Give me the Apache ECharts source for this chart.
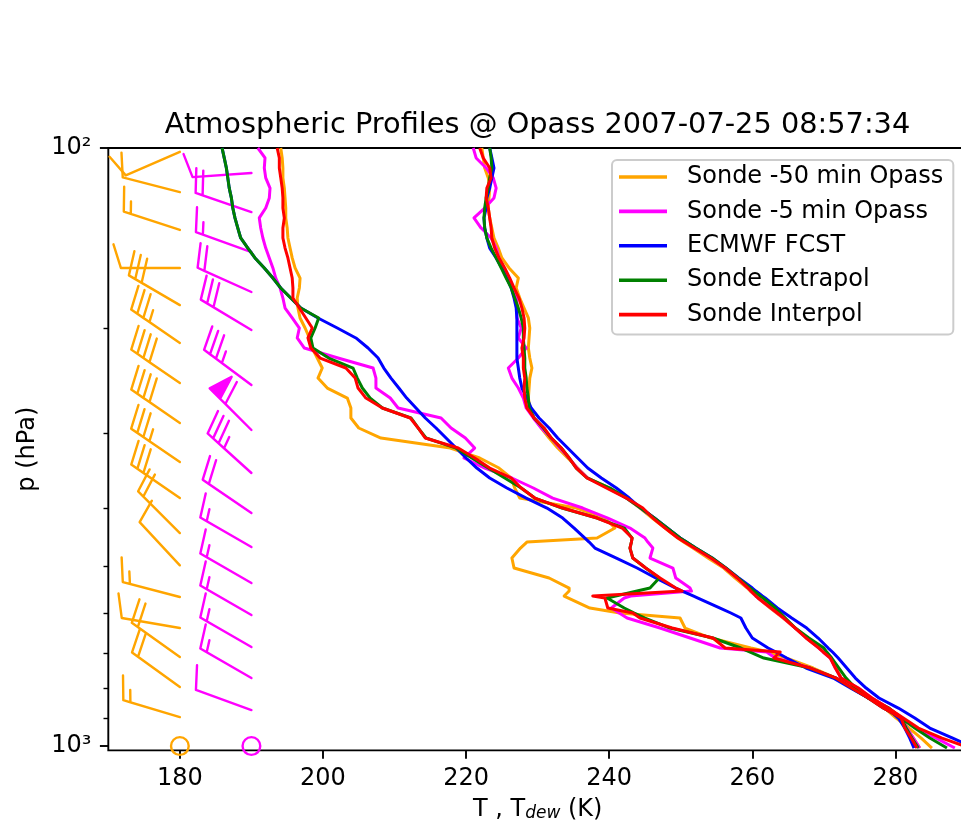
<!DOCTYPE html>
<html><head><meta charset="utf-8">
<script src="https://cdn.jsdelivr.net/npm/echarts@6/dist/echarts.min.js"></script>
<style>html,body{margin:0;padding:0;background:#fff;overflow:hidden;}#c{width:961px;height:826px;}</style>
</head><body><div id="c"></div>
<script>
// ---------- data ----------
const xTicks = [180, 200, 220, 240, 260, 280];
const yMajor = [100, 1000];
const yMinor = [200, 300, 400, 500, 600, 700, 800, 900];
const seriesNames = ['Sonde -50 min Opass', 'Sonde -5 min Opass', 'ECMWF FCST', 'Sonde Extrapol', 'Sonde Interpol'];

// pressure levels (hPa) shared by all profiles
const pLevels = [100.0,103.9,108.0,112.2,116.7,121.2,126.0,130.9,136.1,141.4,
  147.0,152.7,158.7,165.0,171.4,178.2,185.2,192.4,200.0,207.8,
  216.0,224.5,233.3,242.5,252.0,261.9,272.1,282.8,293.9,305.5,
  317.5,329.9,342.9,356.3,370.3,384.9,400.0,415.7,432.0,449.0,
  456.0,
  466.6,484.9,503.9,523.7,544.3,
  550.6,561.3,
  565.6,587.8,
  599.2,
  610.9,634.9,659.8,685.7,
  696.3,
  712.6,740.6,769.7,799.9,831.3,864.0,897.9,933.1,969.8,1007.8];

// temperature (K)
const orangeT = [222.2,222.4,222.6,223.1,223.3,223.2,223.1,223.3,223.6,223.9,
  224.5,225.0,226.0,227.3,227.0,227.5,228.1,228.7,228.9,228.8,
  228.7,228.9,229.2,228.9,228.8,228.7,228.9,229.5,230.5,231.6,
  232.8,234.2,235.6,237.0,240.1,242.4,244.3,246.0,247.8,249.6,
  250.4, 251.7,253.8,256.0,257.6,259.3, 259.7,260.5, 260.8,262.5, 263.4, 264.3,266.0,267.6,269.5, 270.1,
  270.9,271.7,272.4,274.6,276.6,278.5,280.1,281.9,283.6,285.1];
const magentaT = [221.0,221.4,222.8,223.8,224.2,223.9,222.6,221.1,222.1,223.5,
  224.2,224.6,225.3,226.0,226.6,227.1,227.1,227.1,227.7,227.3,
  228.4,227.3,225.9,226.4,227.3,228.0,228.4,229.4,230.5,231.9,
  233.1,234.4,235.5,237.0,239.8,242.4,244.4,246.3,248.1,249.9,
  250.7, 251.9,254.2,256.2,257.9,259.4, 259.8,260.5, 260.8,262.6, 263.5, 264.4,266.0,267.6,269.3, 269.9,
  270.9,271.6,272.4,274.8,276.7,279.0,280.9,282.9,285.7,288.3];
const blueT = [223.3,223.6,223.9,223.6,223.3,222.9,222.8,222.5,222.6,222.9,
  223.3,224.2,225.0,225.7,226.3,226.7,227.0,227.1,227.1,227.1,
  227.1,227.1,227.3,227.5,227.8,228.5,229.1,230.2,231.6,232.8,
  234.2,235.6,237.0,238.9,241.0,242.8,244.4,246.3,248.1,249.9,
  250.8, 252.1,254.4,256.3,258.1,260.0, 260.5,261.4, 261.8,263.5, 264.5, 265.5,267.6,269.2,270.6, 271.2,
  272.0,273.2,274.4,275.9,277.7,280.4,282.7,284.8,288.0,291.1];
const greenT = [223.3,223.5,223.6,223.3,223.1,222.8,222.6,222.5,222.6,222.9,
  223.5,224.2,224.9,225.6,226.3,226.8,227.3,227.7,228.0,228.0,
  228.1,228.2,228.2,228.4,228.5,228.7,228.8,229.5,230.8,231.9,
  233.3,234.4,235.4,236.9,240.1,242.4,244.4,246.3,248.1,249.9,
  250.8, 252.1,254.4,256.3,258.0,259.7, 260.2,261.1, 261.5,263.2, 263.9, 264.6,266.0,267.9,270.0, 270.4,
  271.1,272.1,273.1,274.4,276.2,279.1,280.8,282.7,284.8,287.2];
const redT = [221.9,222.4,223.3,223.5,222.9,222.8,223.1,223.3,223.5,223.6,
  224.0,224.6,225.4,226.1,226.7,227.4,227.8,228.1,228.2,228.1,
  227.8,228.0,228.0,228.2,228.1,228.2,228.5,229.5,230.9,231.9,
  233.3,234.4,235.4,236.9,239.6,242.4,244.7,246.1,247.8,249.6,
  250.5, 251.9,254.2,256.2,257.9,259.4, 259.8,260.5, 260.8,262.6, 263.5, 264.4,266.0,267.5,269.3, 269.9,
  270.9,271.6,272.4,274.8,276.7,279.0,281.1,283.2,286.5,290.4];

// dew point (K)
const orangeTd = [194.1,194.3,194.4,194.4,194.6,194.7,194.8,194.8,195.0,195.1,
  195.4,195.7,196.1,196.8,196.7,196.4,196.5,196.8,197.5,198.1,
  198.5,199.2,199.9,199.3,200.6,203.4,203.9,203.9,205.0,208.1,
  217.8,221.9,224.6,226.3,226.8,227.5,235.4,239.4,240.8,238.3,
  228.5, 227.6,226.4,226.7,231.6,234.4, 234.4,233.7, 233.8,237.3, 241.5, 249.9,250.6,254.2,259.8, 262.3,
  264.7,268.5,271.7,274.2,276.7,279.0,280.9,281.6,282.5,283.4];
const magentaTd = [190.9,191.9,191.8,192.0,192.6,192.5,192.0,191.1,191.3,191.6,
  192.0,192.5,193.0,193.4,194.0,194.4,194.7,195.7,196.7,196.4,
  197.4,202.1,207.0,207.4,207.4,209.4,210.5,216.5,217.9,219.9,
  221.2,219.7,222.6,226.4,229.4,232.1,236.3,239.8,242.9,245.0,
  245.4, 246.1,245.7,248.9,249.3,251.3, 251.5,243.0, 242.1,240.3, 241.4, 242.5,247.1,251.3,255.5, 262.0,
  263.2,268.1,271.7,273.9,276.2,278.3,280.8,281.6,282.5,283.4];
const blueTd = [185.9,186.2,186.5,186.7,186.9,187.2,187.4,187.7,188.1,188.5,
  189.5,190.5,191.8,193.0,194.1,195.5,196.9,199.3,202.0,204.6,
  206.3,207.7,208.5,209.5,210.6,211.7,213.0,214.3,215.8,217.2,
  218.6,220.0,221.5,223.3,225.7,228.4,231.3,233.5,235.1,236.6,
  237.2, 238.0,241.0,243.9,246.5,249.3, 250.2,251.8, 252.4,255.5, 257.0, 258.4,259.1,260.0,262.2, 263.3,
  264.8,267.5,271.3,273.7,276.2,278.8,280.4,281.3,282.0,282.6];
const greenTd = [185.9,186.2,186.5,186.7,186.9,187.2,187.4,187.7,188.1,188.5,
  189.5,190.5,191.8,193.0,194.1,195.5,196.9,199.4,198.9,198.3,
  198.6,200.8,204.2,204.8,205.5,206.6,208.3,212.3,213.3,214.4,
  218.6,220.8,223.1,225.4,227.7,229.6,233.4,238.3,242.1,243.2,
  243.1, 242.9,243.3,245.1,247.0,245.7, 243.9,240.9, 239.7,242.1, 243.5, 245.0,248.5,254.5,258.4, 259.7,
  261.6,268.1,271.7,273.9,276.2,278.3,280.8,281.5,282.3,283.2];
const redTd = [193.6,193.9,193.9,194.1,194.3,194.4,194.4,194.6,194.4,194.4,
  194.7,195.1,195.4,195.7,195.8,195.8,196.7,197.6,198.5,197.9,
  198.3,199.6,203.2,204.5,204.9,206.0,208.3,212.2,213.3,214.3,
  218.9,221.2,223.3,226.3,227.7,229.6,233.5,238.3,241.8,243.2,
  243.1, 242.9,243.3,245.1,247.1,249.3, 250.2,237.7, 239.4,239.8, 243.3, 244.3,248.8,254.5,256.2, 263.9,
  263.0,268.1,271.7,273.9,276.2,278.3,280.8,281.3,282.2,283.0];

// wind barbs (kt) : pressure, u, v
const orangeBarbX = 180;
const orangeBarbP = [101.5,118.5,137.1,158.7,183.1,211.8,247.2,288.3,335.0,384.9,440.4,498.7,563.4,634.9,709.9,796.8,894.5,1000];
const orangeBarbU = [9.2,9.7,14.3,10.0,25.9,28.9,33.0,33.0,28.9,24.7,14.1,6.8,14.5,9.8,16.3,16.2,14.4,0];
const orangeBarbV = [4.0,-2.5,-4.7,0.0,-15.1,-19.8,-22.7,-22.7,-19.8,-17.0,-14.1,-7.3,-3.8,-1.7,-11.6,-11.7,-4.3,0];
const magentaBarbX = 190;
const magentaBarbP = [110.1,128.0,149.3,174.1,201.5,249.1,296.2,349.5,407.8,464.8,533.9,603.9,683.1,769.7,870.7,1000];
const magentaBarbU = [10.0,18.9,14.1,18.2,25.7,28.1,42.4,26.0,16.5,13.0,13.0,13.0,13.0,13.0,9.4,0];
const magentaBarbV = [0.7,-6.5,-5.1,-8.2,-15.4,-20.9,-42.4,-23.5,-11.3,-7.5,-7.5,-7.5,-7.5,-7.5,-3.4,0];

// ---------- chart ----------
const FONT = 'DejaVu Sans';
const colors = {orange:'#FFA500', magenta:'#FF00FF', blue:'#0000FF', green:'#008000', red:'#FF0000'};
const chart = echarts.init(document.getElementById('c'), null, {renderer:'canvas'});

function prof(name, color, arr) {
  return {
    type:'line', name, data: arr.map((t, i) => [t, pLevels[i]]),
    symbol:'none', showSymbol:false, smooth:false, animation:false,
    lineStyle:{color, width:3, join:'round'}, itemStyle:{color},
    emphasis:{disabled:true}, silent:true, z:3
  };
}

const BARB_LEN = 59;
function barbRenderer(color) {
  return function (params, api) {
    const pt = api.coord([api.value(0), api.value(1)]);
    const u = api.value(2), v = api.value(3);
    const L = BARB_LEN, sp = L * 0.125, H = L * 0.4, fw = L * 0.25, lw = 2.4;
    const s = Math.hypot(u, v);
    let mag = Math.round(s / 5) * 5;
    const nflags = Math.floor(mag / 50); mag -= nflags * 50;
    const nbarb = Math.floor(mag / 10); mag -= nbarb * 10;
    const half = mag >= 5;
    if (!nflags && !nbarb && !half) {
      return {type:'circle', shape:{cx:pt[0], cy:pt[1], r:0.15 * L}, style:{fill:null, stroke:color, lineWidth:lw}};
    }
    const d = [-u / s, v / s], n = [-v / s, -u / s];
    const loc = [[0, 0]];
    let off = L;
    for (let i = 0; i < nflags; i++) {
      if (off !== L) off += sp / 2;
      loc.push([0, off], [H, off - fw / 2], [0, off - fw]);
      off -= fw + sp;
    }
    for (let i = 0; i < nbarb; i++) {
      loc.push([0, off], [H, off + fw / 2], [0, off]);
      off -= sp;
    }
    if (half) {
      if (off === L) { loc.push([0, off]); off -= 1.5 * sp; }
      loc.push([0, off], [H / 2, off + fw / 4], [0, off]);
    }
    const pts = loc.map(([a, b]) => [pt[0] + b * d[0] + a * n[0], pt[1] + b * d[1] + a * n[1]]);
    return {type:'polygon', shape:{points:pts}, style:{fill:color, stroke:color, lineWidth:lw, lineJoin:'round'}};
  };
}
function barbSeries(color, x, P, U, V) {
  return {
    type:'custom', renderItem: barbRenderer(color), silent:true, animation:false, z:2,
    data: P.map((p, i) => [x, p, U[i], V[i]]), encode:{x:0, y:1}
  };
}

const tickStyle = {color:'#000', fontFamily:FONT, fontSize:24};
const option = {
  animation:false,
  backgroundColor:'#fff',
  title:{
    text:'Atmospheric Profiles @ Opass 2007-07-25 08:57:34',
    left:537.5, textAlign:'center', top:111, padding:0,
    textStyle:{fontFamily:FONT, fontSize:28.8, fontWeight:'normal', color:'#000'}
  },
  legend:{
    data: seriesNames, orient:'vertical', left:612, top:160,
    icon:'rect', itemWidth:48, itemHeight:3.6, itemGap:10.4,
    padding:[5, 10, 8, 7],
    backgroundColor:'rgba(255,255,255,0.8)', borderColor:'#cccccc', borderWidth:2, borderRadius:5,
    textStyle:{fontFamily:FONT, fontSize:24, color:'#000', lineHeight:24, padding:[0,0,0,15]},
    selectedMode:false
  },
  grid:{left:108.3, top:148, right:-6, bottom:75.6, show:true, borderColor:'#000', borderWidth:1.9,
        backgroundColor:'transparent', containLabel:false, outerBoundsMode:'none'},
  xAxis:{
    type:'value', min:170, max:290,
    axisLine:{show:false},
    axisTick:{show:true, inside:false, length:8.4, customValues:xTicks, lineStyle:{color:'#000', width:1.9}},
    axisLabel:{show:true, customValues:xTicks, margin:16, ...tickStyle},
    splitLine:{show:false},
    name:'T , T{sub|dew} (K)', nameLocation:'middle', nameGap:46,
    nameTextStyle:{fontFamily:FONT, fontSize:24, color:'#000', lineHeight:26, verticalAlign:'top',
      rich:{sub:{fontFamily:FONT, fontSize:17, fontStyle:'italic', color:'#000', verticalAlign:'bottom', lineHeight:17}}}
  },
  yAxis:[{
    type:'log', logBase:10, min:100, max:1017, inverse:true,
    axisLine:{show:false},
    axisTick:{show:true, length:8.4, customValues:yMajor, lineStyle:{color:'#000', width:1.9}},
    axisLabel:{show:true, customValues:yMajor, margin:17, formatter:(v) => (v < 500 ? '10²' : '10³'), ...tickStyle},
    splitLine:{show:false}, minorTick:{show:false},
    name:'p (hPa)', nameLocation:'middle', nameRotate:90, nameGap:68,
    nameTextStyle:{fontFamily:FONT, fontSize:24, color:'#000'}
  },{
    type:'log', logBase:10, min:100, max:1017, inverse:true, position:'left',
    axisLine:{show:false},
    axisTick:{show:true, length:4.8, customValues:yMinor, lineStyle:{color:'#000', width:1.4}},
    axisLabel:{show:false}, splitLine:{show:false}
  }],
  series:[
    barbSeries(colors.orange, orangeBarbX, orangeBarbP, orangeBarbU, orangeBarbV),
    barbSeries(colors.magenta, magentaBarbX, magentaBarbP, magentaBarbU, magentaBarbV),
    prof(seriesNames[0], colors.orange, orangeT),
    prof(seriesNames[0], colors.orange, orangeTd),
    prof(seriesNames[1], colors.magenta, magentaT),
    prof(seriesNames[1], colors.magenta, magentaTd),
    prof(seriesNames[2], colors.blue, blueT),
    prof(seriesNames[2], colors.blue, blueTd),
    prof(seriesNames[3], colors.green, greenT),
    prof(seriesNames[3], colors.green, greenTd),
    prof(seriesNames[4], colors.red, redT),
    prof(seriesNames[4], colors.red, redTd)
  ]
};
chart.setOption(option);
</script>
</body></html>
